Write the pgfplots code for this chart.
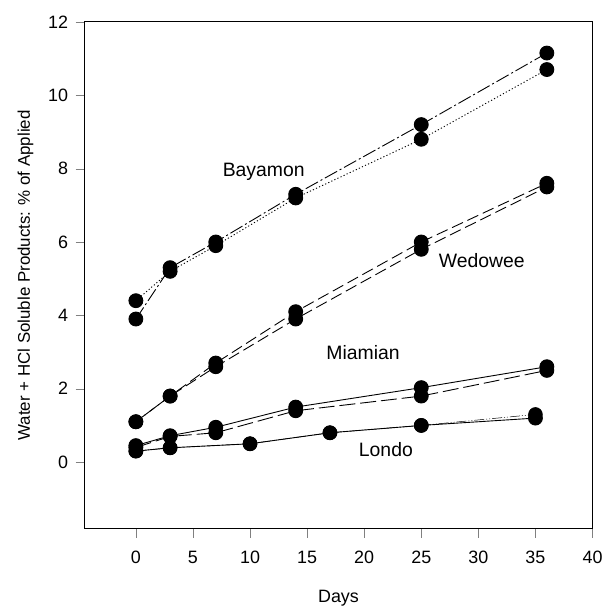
\documentclass[border=0pt]{standalone}
\usepackage{pgfplots}
\pgfplotsset{compat=1.18}
\usepackage{fontspec}
\setmainfont{Liberation Sans}
\begin{document}
\begin{tikzpicture}[font=\fontsize{18}{22}\selectfont]
\begin{axis}[
  name=main,
  scale only axis,
  width=511pt, height=510pt,
  xmin=-4.5, xmax=40, ymin=-1.82, ymax=12,
  xtick={0,5,...,40}, ytick={0,2,...,12},
  tick align=outside, major tick length=9pt,
  xtick pos=bottom, ytick pos=left,
  /pgf/number format/assume math mode=true,
  xlabel={Days}, ylabel={Water + HCl Soluble Products: \% of Applied},
  xlabel style={yshift=-20pt},
  ylabel style={yshift=8pt, font=\fontsize{17}{20}\selectfont},
  xticklabel style={yshift=-10pt},
  yticklabel style={xshift=-4pt},
  axis line style={line width=0.8pt},
  every axis plot/.append style={black, line width=0.9pt, mark=*, mark size=7pt,
    mark options={solid, fill=black}},
]
% Bayamon
\addplot[dash pattern=on 14pt off 3pt on 2pt off 3pt] coordinates {(0,3.9)(3,5.3)(7,6.0)(14,7.3)(25,9.2)(36,11.15)};
\addplot[dash pattern=on 1.2pt off 2.2pt] coordinates {(0,4.4)(3,5.2)(7,5.9)(14,7.2)(25,8.8)(36,10.7)};
% Wedowee
\addplot[dash pattern=on 12pt off 5pt] coordinates {(0,1.1)(3,1.8)(7,2.7)(14,4.1)(25,6.0)(36,7.6)};
\addplot[dash pattern=on 12pt off 5pt, dash phase=6pt] coordinates {(0,1.1)(3,1.8)(7,2.6)(14,3.9)(25,5.8)(36,7.5)};
% Miamian
\addplot[solid] coordinates {(0,0.45)(3,0.72)(7,0.95)(14,1.5)(25,2.03)(36,2.6)};
\addplot[dash pattern=on 16pt off 5pt] coordinates {(0,0.4)(3,0.7)(7,0.8)(14,1.4)(25,1.8)(36,2.5)};
% Londo
\addplot[solid] coordinates {(0,0.3)(3,0.39)(10,0.5)(17,0.8)(25,1.0)(35,1.2)};
\addplot[line width=0.5pt, dash pattern=on 10pt off 2pt on 1pt off 2pt on 1pt off 2pt] coordinates {(0,0.3)(3,0.39)(10,0.5)(17,0.8)(25,1.0)(35,1.3)};
\node[font=\fontsize{19.5}{23}\selectfont] at (axis cs:11.2,7.9) {Bayamon};
\node[font=\fontsize{19.5}{23}\selectfont] at (axis cs:30.3,5.48) {Wedowee};
\node[font=\fontsize{19.5}{23}\selectfont] at (axis cs:19.9,2.98) {Miamian};
\node[font=\fontsize{19.5}{23}\selectfont] at (axis cs:21.9,0.35) {Londo};
\end{axis}
\path (main.south west) ++(-85pt,-73pt);
\path (main.north east) ++(14pt,22pt);
\end{tikzpicture}
\end{document}
